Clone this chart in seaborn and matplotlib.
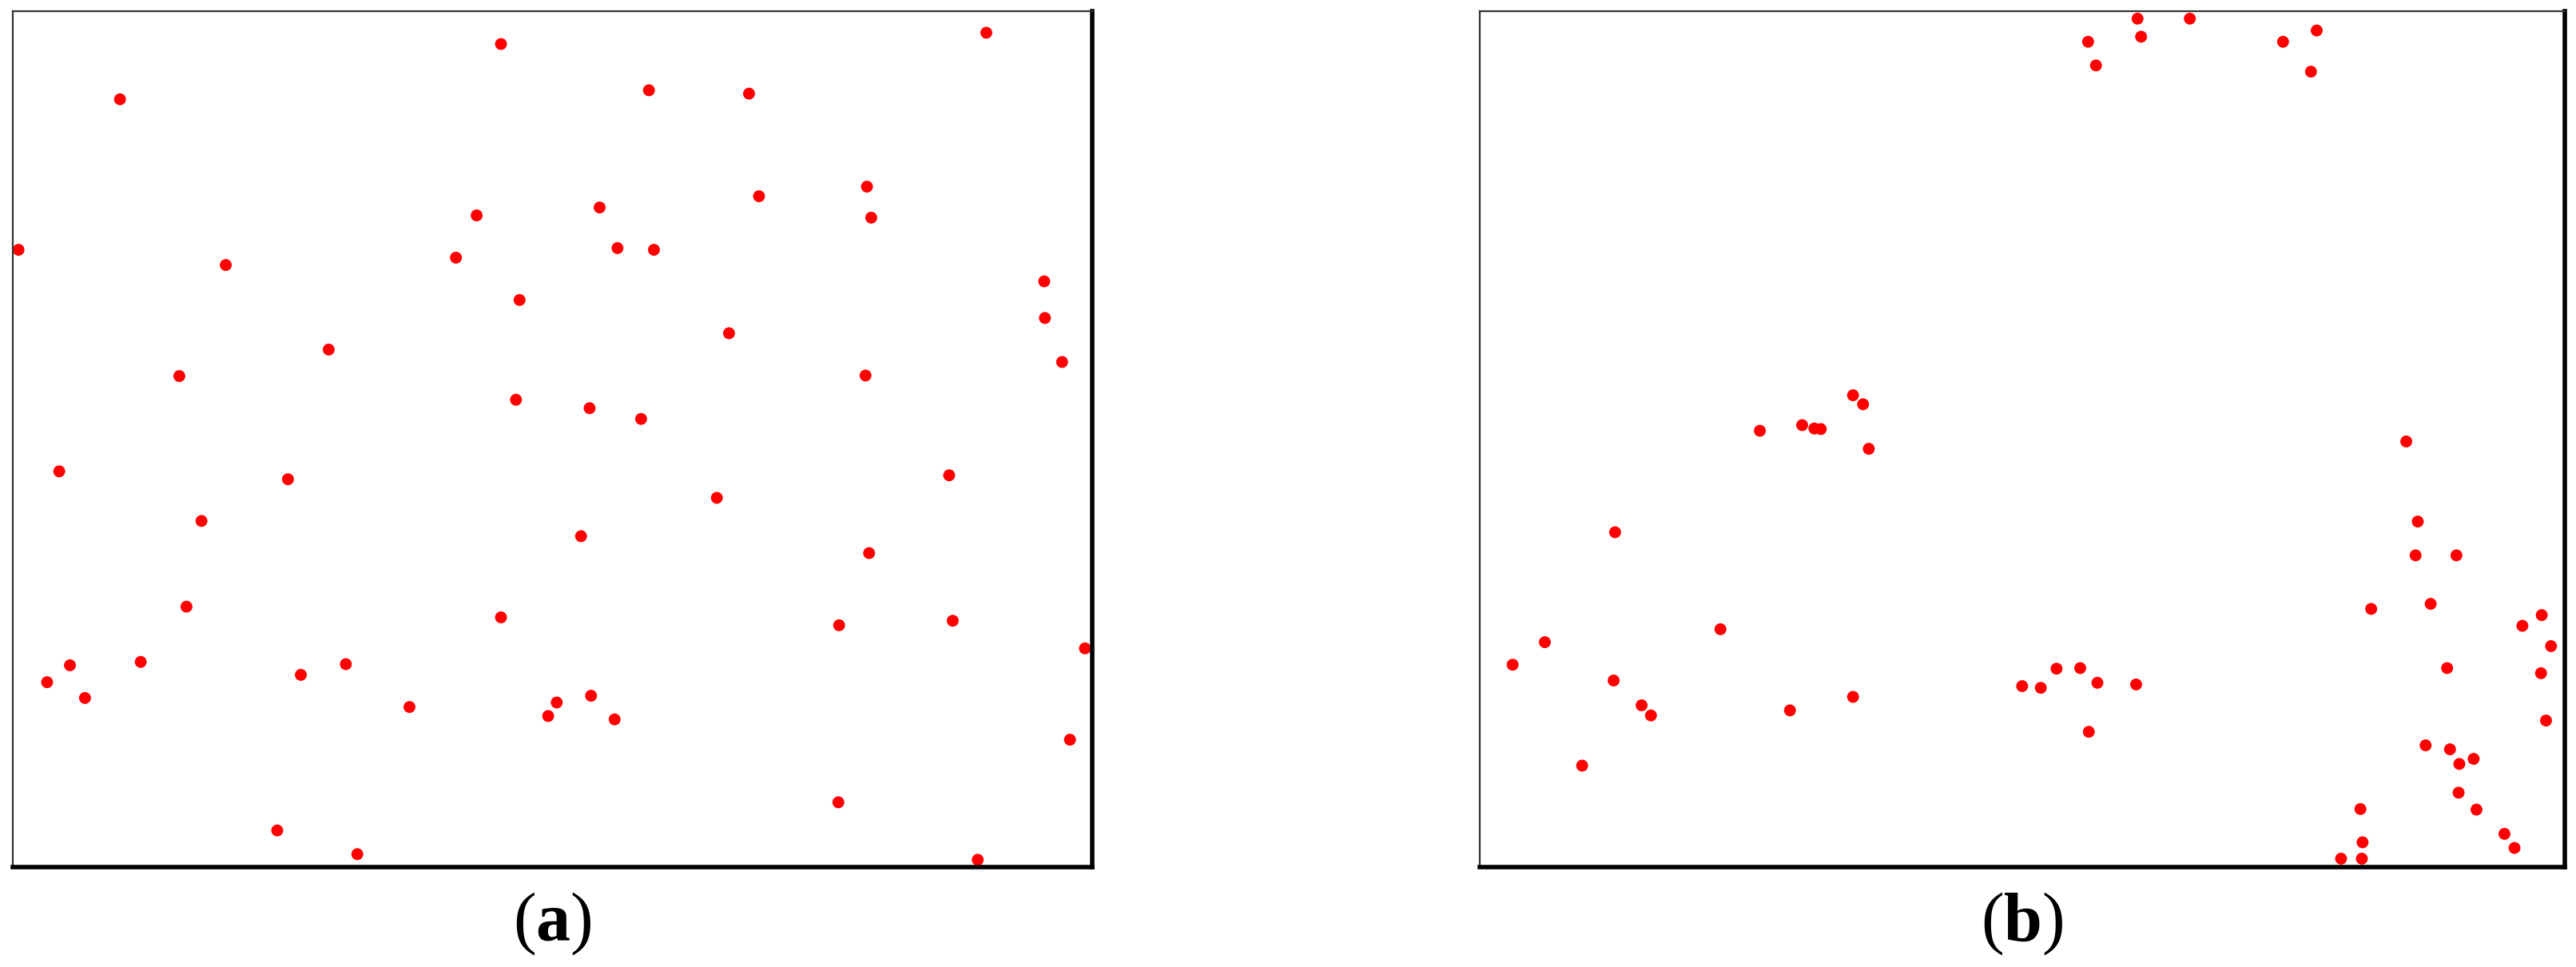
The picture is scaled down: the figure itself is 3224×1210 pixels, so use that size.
import numpy as np
import pandas as pd
import matplotlib
matplotlib.use("Agg")
import matplotlib.pyplot as plt
import seaborn as sns

# posiciones de los puntos detectados (pixeles de la imagen original, y hacia abajo)
# panel (a): distribucion dispersa
xa = [703, 1382, 170, 910, 1050, 1064, 1215, 1221, 669, 841,
      28, 318, 640, 866, 917, 1463, 729, 1464, 1022, 462,
      253, 1488, 1213, 724, 827, 899, 85, 405, 1330, 1005,
      284, 815, 1218, 263, 703, 1176, 1335, 1520, 100, 199,
      68, 423, 486, 121, 575, 781, 829, 769, 862, 1499,
      1175, 390, 502, 1370]
ya = [80, 60, 178, 162, 168, 350, 333, 388, 384, 370,
      445, 472, 459, 442, 445, 501, 534, 566, 593, 622,
      669, 644, 668, 711, 726, 745, 838, 852, 845, 885,
      926, 953, 983, 1078, 1097, 1111, 1103, 1152, 1182, 1176,
      1212, 1199, 1180, 1240, 1256, 1248, 1236, 1272, 1278, 1314,
      1425, 1475, 1517, 1527]

# panel (b): distribucion agrupada
xb = [954, 1027, 959, 885, 896, 1157, 1204, 1196, 557, 571,
      427, 486, 503, 512, 579, 1329, 225, 1345, 1342, 1399,
      1280, 1363, 372, 127, 82, 1491, 1518, 1531, 1386, 1517,
      223, 262, 275, 469, 557, 793, 819, 841, 874, 898,
      952, 886, 1524, 179, 1356, 1390, 1403, 1423, 1402, 1427,
      1265, 1268, 1466, 1480, 1238, 1267]
yb = [35, 35, 67, 76, 118, 76, 56, 129, 703, 719,
      766, 756, 762, 763, 798, 785, 946, 927, 987, 987,
      1082, 1073, 1118, 1141, 1181, 1112, 1093, 1148, 1187, 1196,
      1209, 1253, 1271, 1262, 1238, 1219, 1222, 1188, 1187, 1213,
      1216, 1300, 1280, 1360, 1324, 1331, 1357, 1348, 1408, 1438,
      1437, 1496, 1481, 1506, 1525, 1525]

etiquetas = ["a", "b"]

sns.set_theme(style="white")
plt.rcParams['font.family'] = ['Liberation Serif', 'DejaVu Serif']
plt.rcParams['mathtext.fontset'] = 'custom'
plt.rcParams['mathtext.rm'] = 'Liberation Serif'
plt.rcParams['mathtext.bf'] = 'Liberation Serif:bold'

fig = plt.figure(figsize=(32.24, 12.10), dpi=100)

paneles = [
    (pd.DataFrame({'x': xa, 'y': ya}), [0.00496, 0.1033, 0.4190, 0.885], (20, 1530)),
    (pd.DataFrame({'x': xb, 'y': yb}), [0.5744, 0.1033, 0.4212, 0.885], (36, 1550)),
]

for (df, pos, xlim), etiqueta in zip(paneles, etiquetas):
    ax = fig.add_axes(pos)
    sns.scatterplot(data=df, x='x', y='y', ax=ax, color='#ff0000',
                    s=115, edgecolor='none', linewidth=0, legend=False)
    ax.set_xlim(*xlim)
    ax.set_ylim(1540, 22)
    ax.set_xticks([])
    ax.set_yticks([])
    ax.set_xlabel('')
    ax.set_ylabel('')
    # bordes: finos arriba/izquierda, gruesos abajo/derecha
    for lado in ['top', 'left']:
        ax.spines[lado].set_color('#333333')
        ax.spines[lado].set_linewidth(1.6)
    for lado in ['bottom', 'right']:
        ax.spines[lado].set_color('black')
        ax.spines[lado].set_linewidth(4.0)
    cx = pos[0] + pos[2] / 2
    fig.text(cx, 0.027, '($\\mathbf{' + etiqueta + '}$)', fontsize=62,
             ha='center', va='baseline', color='black')

fig.savefig('out.png', dpi=100, facecolor='white')
plt.close()
